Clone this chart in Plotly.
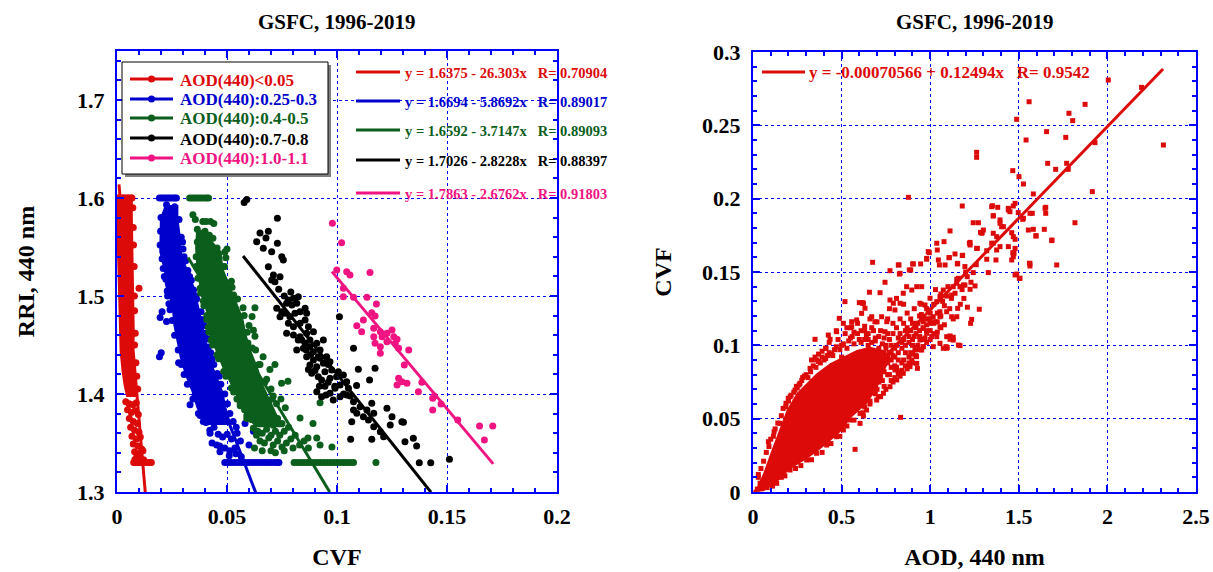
import plotly.graph_objects as go

W, H = 1213, 572
FONT = "Liberation Serif"
AX_BLUE = "#0000ff"
C_RED = "#dd0a0a"
C_BLUE = "#0000cc"
C_GREEN = "#0b5e1c"
C_BLACK = "#000000"
C_PINK = "#f01482"

# ------------------------------------------------------------------ data
group_labels = ["AOD(440)&lt;0.05", "AOD(440):0.25-0.3", "AOD(440):0.4-0.5",
                "AOD(440):0.7-0.8", "AOD(440):1.0-1.1"]
group_colors = [C_RED, C_BLUE, C_GREEN, C_BLACK, C_PINK]

fit_intercept = [1.6375, 1.6694, 1.6592, 1.7026, 1.7863]
fit_slope = [26.303, 5.8692, 3.7147, 2.8228, 2.6762]
fit_r = [0.70904, 0.89017, 0.89093, 0.88397, 0.91803]
fit_x_start = [0.0009, 0.0195, 0.0323, 0.0573, 0.0977]
fit_x_end = [0.0129, 0.0630, 0.0967, 0.1427, 0.1710]

aod_fit_intercept = -0.00070566
aod_fit_slope = 0.12494
aod_fit_r = 0.9542
aod_fit_x = [0.005, 2.314]

# saturated (solid) cores of the dense clouds, outline
red_core = [(0.0, 1.6035), (0.0072, 1.6035), (0.0072, 1.58), (0.0074, 1.545), (0.0077, 1.51),
            (0.0077, 1.477), (0.0081, 1.46), (0.0077, 1.443), (0.0085, 1.426), (0.0090, 1.409),
            (0.0092, 1.397), (0.0042, 1.397), (0.0030, 1.409), (0.0021, 1.423), (0.0012, 1.443),
            (0.0006, 1.51), (0.0, 1.545)]
blue_core = [(0.0218, 1.5929), (0.0195, 1.5793), (0.0192, 1.5452), (0.0214, 1.5248), (0.0218, 1.5112),
             (0.0248, 1.4908), (0.0256, 1.4704), (0.0271, 1.4534), (0.0286, 1.4364), (0.0309, 1.4194),
             (0.0339, 1.4024), (0.0362, 1.3854), (0.0400, 1.3684), (0.0521, 1.3684), (0.0498, 1.3854),
             (0.0483, 1.4024), (0.0453, 1.4194), (0.0423, 1.4364), (0.0408, 1.4534), (0.0392, 1.4704),
             (0.0377, 1.4874), (0.0355, 1.5078), (0.0324, 1.5248), (0.0294, 1.5452), (0.0289, 1.5622),
             (0.0279, 1.5793), (0.0279, 1.5929)]
green_core = [(0.0359, 1.5656), (0.0355, 1.5486), (0.0362, 1.5248), (0.0374, 1.5112), (0.0385, 1.4976),
              (0.0405, 1.4840), (0.0411, 1.4704), (0.0423, 1.4568), (0.0450, 1.4432), (0.0480, 1.4262),
              (0.0517, 1.4092), (0.0552, 1.3922), (0.0585, 1.3780), (0.0630, 1.3660), (0.0760, 1.3660),
              (0.0730, 1.3780), (0.0700, 1.3922), (0.0665, 1.4092), (0.0642, 1.4262), (0.0612, 1.4432),
              (0.0589, 1.4602), (0.0574, 1.4772), (0.0544, 1.4942), (0.0514, 1.5112), (0.0483, 1.5282),
              (0.0476, 1.5452), (0.0423, 1.5588), (0.0408, 1.5656)]
aod_core = [(0.010, 0.000), (0.058, 0.0127), (0.105, 0.0286), (0.152, 0.0445), (0.190, 0.0559),
            (0.246, 0.0673), (0.303, 0.0741), (0.359, 0.0809), (0.435, 0.0877), (0.510, 0.0923),
            (0.585, 0.0968), (0.660, 0.0991), (0.736, 0.0968), (0.770, 0.0900), (0.736, 0.0800),
            (0.698, 0.0700), (0.641, 0.0600), (0.604, 0.0560), (0.547, 0.0500), (0.510, 0.0430),
            (0.472, 0.0385), (0.416, 0.0328), (0.359, 0.0272), (0.303, 0.0225), (0.209, 0.0155),
            (0.134, 0.0065), (0.060, 0.0005)]

red_pts = [
    (0.0010, 1.600), (0.0030, 1.600), (0.0050, 1.600), (0.0068, 1.600),
    (0.0072, 1.590), (0.0074, 1.570), (0.0075, 1.552), (0.0078, 1.530), (0.0079, 1.500),
    (0.0080, 1.485), (0.0083, 1.462), (0.0080, 1.450), (0.0086, 1.432), (0.0090, 1.418),
    (0.0094, 1.405), (0.0100, 1.508),
    (0.0040, 1.392), (0.0055, 1.390), (0.0072, 1.389), (0.0088, 1.391), (0.0048, 1.384),
    (0.0065, 1.381), (0.0082, 1.383), (0.0097, 1.379), (0.0056, 1.375), (0.0074, 1.372),
    (0.0092, 1.370), (0.0062, 1.366), (0.0080, 1.363), (0.0100, 1.361), (0.0068, 1.357),
    (0.0088, 1.354), (0.0106, 1.356), (0.0074, 1.349), (0.0095, 1.347), (0.0112, 1.344),
    (0.0080, 1.341), (0.0100, 1.339), (0.0118, 1.342), (0.0090, 1.336),
    (0.0076, 1.330), (0.0086, 1.330), (0.0096, 1.330), (0.0106, 1.330), (0.0116, 1.330),
    (0.0126, 1.330), (0.0136, 1.330), (0.0146, 1.330), (0.0156, 1.330), (0.0081, 1.333),
    (0.0101, 1.333), (0.0121, 1.333)]

blue_pts = [
    (0.0193, 1.600), (0.0203, 1.600), (0.0213, 1.600), (0.0223, 1.600), (0.0233, 1.600),
    (0.0243, 1.600), (0.0253, 1.600), (0.0263, 1.600), (0.0270, 1.600),
    (0.0225, 1.593), (0.0262, 1.591), (0.0200, 1.580), (0.0282, 1.578), (0.0198, 1.566),
    (0.0292, 1.560), (0.0196, 1.552), (0.0300, 1.548), (0.0205, 1.538), (0.0312, 1.536),
    (0.0210, 1.528), (0.0322, 1.526), (0.0338, 1.516), (0.0222, 1.517), (0.0348, 1.506),
    (0.0230, 1.500), (0.0362, 1.497), (0.0236, 1.492),
    (0.0215, 1.520), (0.0228, 1.505), (0.0245, 1.490), (0.0250, 1.475), (0.0262, 1.460),
    (0.0278, 1.445), (0.0292, 1.430), (0.0305, 1.420), (0.0320, 1.410), (0.0345, 1.395),
    (0.0370, 1.380), (0.0298, 1.555), (0.0305, 1.540), (0.0330, 1.520), (0.0358, 1.500),
    (0.0385, 1.476), (0.0400, 1.462), (0.0415, 1.448), (0.0433, 1.436), (0.0465, 1.418),
    (0.0196, 1.478), (0.0205, 1.484), (0.0241, 1.486), (0.0193, 1.438), (0.0201, 1.442),
    (0.0280, 1.432), (0.0225, 1.474),
    (0.0382, 1.484), (0.0396, 1.470), (0.0412, 1.456), (0.0426, 1.442), (0.0440, 1.430),
    (0.0456, 1.421), (0.0472, 1.410), (0.0490, 1.400), (0.0502, 1.390), (0.0513, 1.380),
    (0.0528, 1.372), (0.0542, 1.366),
    (0.0405, 1.371), (0.0422, 1.363), (0.0441, 1.366), (0.0460, 1.359), (0.0480, 1.356),
    (0.0501, 1.359), (0.0520, 1.354), (0.0546, 1.360), (0.0561, 1.352), (0.0432, 1.350),
    (0.0467, 1.347), (0.0490, 1.345), (0.0512, 1.342), (0.0536, 1.345), (0.0620, 1.362),
    (0.0582, 1.370), (0.0453, 1.348), (0.0468, 1.341), (0.0423, 1.360), (0.0332, 1.389),
    (0.0355, 1.399), (0.0378, 1.378), (0.0392, 1.372), (0.0510, 1.337), (0.0540, 1.339),
    (0.0565, 1.336), (0.0600, 1.348),
    (0.0490, 1.330), (0.0505, 1.330), (0.0520, 1.330), (0.0535, 1.330), (0.0550, 1.330),
    (0.0565, 1.330), (0.0580, 1.330), (0.0595, 1.330), (0.0610, 1.330), (0.0625, 1.330),
    (0.0640, 1.330), (0.0655, 1.330), (0.0670, 1.330), (0.0685, 1.330), (0.0700, 1.330),
    (0.0715, 1.330), (0.0730, 1.330), (0.0736, 1.330)]

green_pts = [
    (0.0330, 1.600), (0.0341, 1.600), (0.0352, 1.600), (0.0363, 1.600), (0.0374, 1.600),
    (0.0385, 1.600), (0.0396, 1.600), (0.0407, 1.600), (0.0416, 1.600),
    (0.0345, 1.583), (0.0356, 1.578), (0.0390, 1.576), (0.0405, 1.576), (0.0425, 1.576),
    (0.0440, 1.574), (0.0365, 1.568), (0.0380, 1.564), (0.0400, 1.566), (0.0420, 1.562),
    (0.0436, 1.559), (0.0455, 1.549), (0.0500, 1.548), (0.0495, 1.539), (0.0488, 1.530),
    (0.0490, 1.545), (0.0487, 1.530), (0.0520, 1.515), (0.0548, 1.497), (0.0578, 1.480),
    (0.0592, 1.463), (0.0615, 1.447), (0.0645, 1.430), (0.0672, 1.412), (0.0705, 1.395),
    (0.0365, 1.555), (0.0360, 1.530), (0.0378, 1.508), (0.0392, 1.495), (0.0408, 1.480),
    (0.0415, 1.468), (0.0428, 1.455), (0.0455, 1.440), (0.0485, 1.423), (0.0520, 1.406),
    (0.0560, 1.390), (0.0590, 1.375), (0.0635, 1.362),
    (0.0523, 1.509), (0.0530, 1.501), (0.0573, 1.488), (0.0627, 1.488), (0.0614, 1.479),
    (0.0620, 1.465), (0.0627, 1.459), (0.0600, 1.470), (0.0595, 1.452), (0.0630, 1.445),
    (0.0664, 1.438), (0.0650, 1.430), (0.0695, 1.425), (0.0718, 1.430), (0.0680, 1.415),
    (0.0748, 1.411), (0.0777, 1.413), (0.0700, 1.405),
    (0.0360, 1.540), (0.0368, 1.518), (0.0380, 1.503), (0.0395, 1.490), (0.0408, 1.476),
    (0.0418, 1.463), (0.0435, 1.450), (0.0462, 1.436), (0.0495, 1.418), (0.0530, 1.402),
    (0.0545, 1.395),
    (0.0710, 1.398), (0.0725, 1.390), (0.0745, 1.395), (0.0765, 1.386), (0.0690, 1.390),
    (0.0560, 1.388), (0.0580, 1.384), (0.0600, 1.386), (0.0620, 1.382), (0.0640, 1.385),
    (0.0660, 1.380), (0.0590, 1.378), (0.0610, 1.374), (0.0630, 1.372), (0.0650, 1.376),
    (0.0670, 1.370), (0.0690, 1.372), (0.0710, 1.368), (0.0730, 1.375), (0.0750, 1.370),
    (0.0620, 1.365), (0.0640, 1.362), (0.0660, 1.360), (0.0680, 1.364), (0.0700, 1.358),
    (0.0720, 1.362), (0.0740, 1.358), (0.0760, 1.362), (0.0780, 1.366), (0.0650, 1.352),
    (0.0670, 1.350), (0.0690, 1.355), (0.0710, 1.348), (0.0730, 1.352), (0.0750, 1.346),
    (0.0770, 1.350), (0.0790, 1.354), (0.0810, 1.358), (0.0700, 1.342), (0.0720, 1.340),
    (0.0760, 1.342), (0.0800, 1.345), (0.0830, 1.348), (0.0850, 1.352), (0.0832, 1.3755),
    (0.0891, 1.370), (0.0923, 1.391), (0.0868, 1.355), (0.0923, 1.348), (0.0977, 1.346),
    (0.0625, 1.345), (0.0660, 1.342), (0.0634, 1.358), (0.0870, 1.345), (0.0908, 1.355),
    (0.0805, 1.330), (0.0820, 1.330), (0.0835, 1.330), (0.0850, 1.330), (0.0865, 1.330),
    (0.0880, 1.330), (0.0895, 1.330), (0.0910, 1.330), (0.0925, 1.330), (0.0940, 1.330),
    (0.0955, 1.330), (0.0970, 1.330), (0.0985, 1.330), (0.1000, 1.330), (0.1015, 1.330),
    (0.1030, 1.330), (0.1045, 1.330), (0.1060, 1.330), (0.1075, 1.330), (0.1177, 1.330)]

black_pts = [
    (0.0578, 1.5955), (0.0590, 1.5985), (0.0729, 1.5793), (0.0650, 1.5643), (0.0688, 1.5660),
    (0.0677, 1.5592), (0.0635, 1.5554), (0.0665, 1.5487), (0.0729, 1.5538), (0.0703, 1.5452),
    (0.0749, 1.5400), (0.0756, 1.5367), (0.0688, 1.5299), (0.0711, 1.5214), (0.0703, 1.5163),
    (0.0741, 1.5197), (0.0718, 1.5146), (0.0735, 1.5070), (0.0760, 1.5000), (0.0790, 1.5040),
    (0.0779, 1.4959), (0.0802, 1.4976), (0.0824, 1.4993), (0.0817, 1.4925), (0.0795, 1.4908),
    (0.0771, 1.4925), (0.0726, 1.4874), (0.0749, 1.4840), (0.0741, 1.4789), (0.0763, 1.4823),
    (0.0786, 1.4789), (0.0809, 1.4823), (0.0832, 1.4840), (0.0855, 1.4874), (0.0862, 1.4823),
    (0.0779, 1.4721), (0.0802, 1.4687), (0.0832, 1.4721), (0.0855, 1.4755), (0.0870, 1.4687),
    (0.0771, 1.4619), (0.0802, 1.4602), (0.0832, 1.4585), (0.0862, 1.4619), (0.0893, 1.4636),
    (0.0824, 1.4551), (0.0855, 1.4517), (0.0877, 1.4551), (0.0938, 1.4551),
    (0.0817, 1.4449), (0.0847, 1.4466), (0.0877, 1.4483), (0.0908, 1.4517), (0.0893, 1.4432),
    (0.0923, 1.4449), (0.0860, 1.4450), (0.0840, 1.4550), (0.0880, 1.4400),
    (0.0862, 1.4381), (0.0893, 1.4347), (0.0923, 1.4364), (0.0953, 1.4381), (0.0877, 1.4296),
    (0.0908, 1.4279), (0.0938, 1.4313), (0.0968, 1.4330), (0.0960, 1.4300), (0.0915, 1.4380),
    (0.0885, 1.4211), (0.0915, 1.4177), (0.0945, 1.4228), (0.0976, 1.4245), (0.1006, 1.4228),
    (0.0930, 1.4143), (0.0968, 1.4160), (0.0998, 1.4177), (0.1029, 1.4194), (0.0870, 1.4250),
    (0.0900, 1.4240), (0.0960, 1.4120), (0.0990, 1.4080), (0.0945, 1.4080), (0.0920, 1.4080),
    (0.0908, 1.4024), (0.0930, 1.3973), (0.0968, 1.4007), (0.0991, 1.4058), (0.1014, 1.4092),
    (0.1044, 1.4126), (0.1052, 1.4058), (0.0983, 1.3939), (0.1014, 1.3973), (0.1044, 1.3990),
    (0.1030, 1.4000), (0.1060, 1.3980), (0.0950, 1.3990), (0.1089, 1.4088),
    (0.1075, 1.3921), (0.1105, 1.3871), (0.1090, 1.3803), (0.1136, 1.3837), (0.1158, 1.3905),
    (0.1075, 1.3837), (0.1120, 1.3769), (0.1167, 1.3803),
    (0.1067, 1.3718), (0.1143, 1.3735), (0.1167, 1.3667), (0.1227, 1.3854), (0.1250, 1.3769),
    (0.1295, 1.3718), (0.1302, 1.3711), (0.1242, 1.3684), (0.1197, 1.3616), (0.1212, 1.3565),
    (0.1062, 1.3538), (0.1158, 1.3538),
    (0.1347, 1.3548), (0.1362, 1.3470), (0.1309, 1.3514), (0.1374, 1.3299), (0.1426, 1.3299),
    (0.1511, 1.3333),
    (0.1011, 1.4789), (0.1075, 1.4466), (0.1097, 1.4252), (0.1173, 1.4262), (0.1148, 1.4143)]

pink_pts = [
    (0.0979, 1.5742), (0.1021, 1.5544), (0.0999, 1.5265), (0.1044, 1.5248), (0.1059, 1.5214),
    (0.1150, 1.5241), (0.1029, 1.5078), (0.1029, 1.4993), (0.1075, 1.4986), (0.1136, 1.4986),
    (0.1179, 1.4918), (0.1158, 1.4830), (0.1173, 1.4796), (0.1120, 1.4755), (0.1090, 1.4697),
    (0.1112, 1.4636), (0.1167, 1.4670), (0.1197, 1.4636), (0.1205, 1.4585), (0.1227, 1.4619),
    (0.1250, 1.4653), (0.1258, 1.4585), (0.1273, 1.4558), (0.1167, 1.4585), (0.1173, 1.4517),
    (0.1197, 1.4483), (0.1197, 1.4415), (0.1227, 1.4534), (0.1265, 1.4517), (0.1280, 1.4466),
    (0.1326, 1.4449), (0.1306, 1.4296), (0.1280, 1.4160), (0.1295, 1.4126), (0.1318, 1.4109),
    (0.1273, 1.4092), (0.1370, 1.4024), (0.1386, 1.4119), (0.1435, 1.3956), (0.1442, 1.3980),
    (0.1435, 1.3837), (0.1473, 1.3898), (0.1549, 1.3735), (0.1648, 1.3673), (0.1708, 1.3673),
    (0.1670, 1.3531)]

aod_cvf_pts = [
    # sparse high-AOD points
    (2.005, 0.2809), (2.193, 0.2759), (1.874, 0.2643), (1.558, 0.2661), (1.488, 0.2541),
    (1.783, 0.2582), (1.804, 0.2532), (1.541, 0.2400), (1.657, 0.2457), (1.765, 0.2418),
    (2.316, 0.2366), (1.930, 0.2382), (1.262, 0.2316), (1.262, 0.2282), (1.663, 0.2241),
    (1.770, 0.2241), (1.779, 0.2200), (1.708, 0.2200), (1.466, 0.2191), (1.501, 0.2150),
    (1.526, 0.2100), (1.582, 0.2032), (1.915, 0.2048), (0.877, 0.2009), (1.479, 0.1968),
    (1.652, 0.1941), (1.652, 0.1900), (1.576, 0.1900), (1.351, 0.1952), (1.381, 0.1941),
    (1.181, 0.1950), (1.441, 0.1934), (1.450, 0.1911), (1.497, 0.1905), (1.522, 0.1859),
    (1.356, 0.1884), (1.817, 0.1836), (1.554, 0.1786), (1.644, 0.1791), (1.597, 0.1748),
    (1.686, 0.1714), (1.563, 0.1559), (1.563, 0.1541), (1.714, 0.1548), (1.243, 0.1836),
    (1.272, 0.1836), (1.112, 0.1780), (1.284, 0.1770), (1.293, 0.1770), (1.394, 0.1855),
    (1.394, 0.1832), (1.403, 0.1809), (1.460, 0.1768), (1.479, 0.1723), (1.356, 0.1764),
    (1.375, 0.1741), (1.347, 0.1696), (1.225, 0.1702), (1.225, 0.1684), (1.262, 0.1661),
    (1.319, 0.1645), (1.356, 0.1696), (1.479, 0.1661), (1.466, 0.1632), (1.469, 0.1604),
    (1.460, 0.1582), (1.394, 0.1673), (0.995, 0.1632), (1.037, 0.1696), (1.040, 0.1650),
    (1.078, 0.1707), (1.108, 0.1598), (1.155, 0.1559), (1.181, 0.1612), (1.140, 0.1623),
    (0.675, 0.1566), (0.773, 0.1509), (0.824, 0.1548), (0.830, 0.1491), (0.882, 0.1514),
    (0.905, 0.1555), (0.946, 0.1555), (0.980, 0.1587), (0.989, 0.1639), (1.046, 0.1582),
    (1.084, 0.1548), (1.052, 0.1548), (1.106, 0.1598), (1.153, 0.1555), (1.183, 0.1614),
    (1.221, 0.1696), (1.266, 0.1661), (1.196, 0.1537), (1.209, 0.1468), (1.253, 0.1405),
    (1.243, 0.1496), (1.319, 0.1587), (1.328, 0.1496), (1.277, 0.1246), (1.234, 0.1177),
    (1.228, 0.1150), (1.159, 0.1457), (1.187, 0.1411), (1.130, 0.1400), (1.155, 0.1252),
    (1.300, 0.1786), (1.291, 0.1764), (1.347, 0.1945), (1.356, 0.1882), (1.413, 0.1809),
    (1.441, 0.1923), (1.469, 0.1950), (1.526, 0.1866), (1.563, 0.1900), (1.441, 0.1673),
    (1.473, 0.1627), (1.375, 0.1650), (1.371, 0.1582), (1.469, 0.1741), (1.582, 0.1791),
    (1.648, 0.1934), (1.597, 0.1745), (1.560, 0.1559), (1.488, 0.1486), (1.503, 0.1457),
    (1.687, 0.1718), (1.507, 0.1457), (1.479, 0.1480), (0.980, 0.1593), (0.901, 0.1555),
    (0.890, 0.1514), (0.820, 0.1548), (0.826, 0.1486), (0.745, 0.1430),
    # mid range
    (0.657, 0.1362), (0.717, 0.1359), (0.519, 0.1298), (0.600, 0.1291), (0.619, 0.1287),
    (0.632, 0.1253), (0.773, 0.1309), (0.792, 0.1287), (0.801, 0.1241), (0.830, 0.1287),
    (0.848, 0.1355), (0.867, 0.1400), (0.896, 0.1377), (0.924, 0.1400), (0.952, 0.1400),
    (0.942, 0.1287), (0.971, 0.1275), (0.999, 0.1321), (0.989, 0.1241), (1.037, 0.1298),
    (1.055, 0.1332), (1.074, 0.1377), (1.093, 0.1336), (1.121, 0.1343), (1.140, 0.1355),
    (1.150, 0.1423), (1.168, 0.1400), (1.196, 0.1411), (1.225, 0.1382), (1.055, 0.1229),
    (1.093, 0.1229), (1.121, 0.1195), (1.150, 0.1195), (1.017, 0.1195), (1.055, 0.1195),
    (0.999, 0.1150), (1.027, 0.1161), (1.055, 0.1127), (1.093, 0.1059), (1.112, 0.1064),
    (1.130, 0.1036), (1.159, 0.1002), (1.055, 0.1014), (1.017, 0.0991), (1.074, 0.0980),
    (1.093, 0.0980), (0.952, 0.1195), (0.924, 0.1150), (0.961, 0.1116), (0.980, 0.1082),
    (1.008, 0.1059), (0.942, 0.1036), (0.961, 0.0991), (0.914, 0.0968), (0.896, 0.0900),
    (0.924, 0.0877), (1.168, 0.0998), (1.130, 0.1055), (1.112, 0.1041), (1.089, 0.0991),
    (1.096, 0.0986), (1.037, 0.1059), (0.952, 0.0968), (0.928, 0.0843), (0.820, 0.0805),
    (0.801, 0.0832), (0.833, 0.0509), (0.576, 0.0291), (0.707, 0.0650), (0.604, 0.0468),
    (0.623, 0.0518),
    (0.487, 0.1184), (0.350, 0.1041), (0.425, 0.1070), (0.435, 0.1041), (0.472, 0.1093),
    (0.557, 0.1161), (0.585, 0.1173), (0.557, 0.1127), (0.623, 0.1287), (0.617, 0.1291),
    (0.613, 0.1218), (0.670, 0.1195), (0.688, 0.1161), (0.726, 0.1195), (0.755, 0.1161),
    (0.745, 0.1093), (0.322, 0.0843), (0.359, 0.0900), (0.401, 0.0900), (0.444, 0.0941),
    (0.412, 0.0980), (0.265, 0.0741), (0.237, 0.0695), (0.199, 0.0639), (0.186, 0.0605),
    (0.152, 0.0468), (0.119, 0.0411), (0.087, 0.0343),
    (0.56, 0.068), (0.58, 0.075), (0.60, 0.082), (0.62, 0.072), (0.64, 0.088), (0.66, 0.080),
    (0.68, 0.092), (0.70, 0.085), (0.72, 0.078), (0.74, 0.095), (0.76, 0.088), (0.78, 0.100),
    (0.80, 0.092), (0.82, 0.105), (0.84, 0.098), (0.86, 0.110), (0.88, 0.102), (0.90, 0.115),
    (0.92, 0.108), (0.94, 0.120), (0.96, 0.112), (0.98, 0.125), (1.00, 0.118), (1.02, 0.128),
    (1.04, 0.122), (1.06, 0.135), (1.08, 0.127), (1.10, 0.140), (1.12, 0.132), (1.15, 0.145),
    (1.18, 0.138), (1.20, 0.150), (1.23, 0.143), (1.26, 0.155),
    (0.58, 0.090), (0.62, 0.095), (0.65, 0.100), (0.69, 0.105), (0.72, 0.110), (0.76, 0.108),
    (0.79, 0.115), (0.83, 0.118), (0.87, 0.122), (0.70, 0.070), (0.74, 0.072), (0.77, 0.080),
    (0.81, 0.085), (0.85, 0.090), (0.89, 0.095), (0.93, 0.100), (0.97, 0.105), (0.66, 0.062),
    (0.63, 0.058), (0.69, 0.067),
    (0.38, 0.088), (0.42, 0.093), (0.46, 0.097), (0.50, 0.100), (0.54, 0.103), (0.48, 0.104),
    (0.52, 0.108), (0.56, 0.106), (0.60, 0.104), (0.64, 0.107), (0.68, 0.110), (0.55, 0.112),
    (0.59, 0.115), (0.63, 0.113), (0.66, 0.118), (0.70, 0.116), (0.50, 0.092), (0.45, 0.086),
    (0.21, 0.065), (0.25, 0.071), (0.28, 0.078), (0.30, 0.080),
    # ragged upper edge of the dense cloud
    (0.030, 0.012), (0.045, 0.016), (0.060, 0.021), (0.075, 0.027), (0.090, 0.031),
    (0.100, 0.036), (0.115, 0.038), (0.125, 0.043), (0.140, 0.047), (0.160, 0.052),
    (0.170, 0.057), (0.185, 0.058), (0.200, 0.062), (0.215, 0.066), (0.230, 0.068),
    (0.245, 0.072), (0.260, 0.073), (0.275, 0.076), (0.290, 0.079), (0.310, 0.078),
    (0.325, 0.082), (0.340, 0.086), (0.355, 0.085), (0.370, 0.089), (0.390, 0.092),
    (0.410, 0.091), (0.430, 0.095), (0.450, 0.093), (0.470, 0.099), (0.490, 0.097),
    (0.510, 0.101), (0.530, 0.098), (0.550, 0.105), (0.570, 0.101), (0.590, 0.108),
    (0.610, 0.102), (0.630, 0.110), (0.650, 0.104), (0.670, 0.112), (0.690, 0.103),
    (0.710, 0.106), (0.730, 0.101), (0.750, 0.098), (0.770, 0.095), (0.780, 0.090),
    # ragged lower edge of the dense cloud
    (0.134, 0.0059), (0.209, 0.0150), (0.303, 0.0218), (0.359, 0.0264), (0.416, 0.0320),
    (0.472, 0.0377), (0.510, 0.0423), (0.547, 0.0491), (0.604, 0.0536), (0.641, 0.0559),
    (0.698, 0.0627), (0.736, 0.0673), (0.773, 0.0718), (0.811, 0.0764), (0.848, 0.0809),
    (0.886, 0.0855), (0.923, 0.0923), (0.025, 0.002), (0.040, 0.006), (0.030, 0.010),
    (0.080, 0.003), (0.110, 0.004), (0.160, 0.010), (0.180, 0.011), (0.240, 0.016),
    (0.270, 0.018), (0.330, 0.022), (0.390, 0.027), (0.440, 0.033), (0.490, 0.038),
    (0.530, 0.045), (0.570, 0.049), (0.620, 0.054), (0.660, 0.060), (0.720, 0.065),
    (0.750, 0.070), (0.790, 0.075), (0.830, 0.079), (0.870, 0.084), (0.900, 0.088),
    # speckled continuation of the cloud
    (0.78, 0.085), (0.80, 0.078), (0.82, 0.090), (0.84, 0.083), (0.86, 0.095), (0.88, 0.088),
    (0.90, 0.100), (0.92, 0.093), (0.94, 0.106), (0.96, 0.099), (0.98, 0.110), (1.00, 0.104),
    (1.02, 0.115), (1.04, 0.109), (1.06, 0.120), (1.08, 0.114), (0.79, 0.108), (0.81, 0.112),
    (0.85, 0.115), (0.89, 0.110), (0.91, 0.125), (0.95, 0.128), (0.99, 0.118), (1.03, 0.138),
    (1.07, 0.130), (1.11, 0.125), (1.13, 0.118), (1.17, 0.128), (1.19, 0.132), (1.21, 0.126),
    (0.77, 0.125), (0.81, 0.132), (0.85, 0.128), (0.74, 0.105), (0.76, 0.118),
    (0.72, 0.088), (0.74, 0.082), (0.76, 0.092), (0.78, 0.095), (0.80, 0.098), (0.82, 0.095),
    (0.84, 0.102), (0.86, 0.100), (0.88, 0.106), (0.90, 0.104), (0.92, 0.112), (0.94, 0.110),
    (0.96, 0.116), (0.98, 0.114), (1.00, 0.122), (0.75, 0.100), (0.77, 0.104), (0.79, 0.093),
    (0.81, 0.100), (0.83, 0.108), (0.85, 0.104), (0.87, 0.112), (0.89, 0.118), (0.91, 0.106),
    (0.93, 0.115), (0.95, 0.121), (0.97, 0.118), (0.73, 0.092), (0.71, 0.098), (0.69, 0.095),
    (0.67, 0.102), (0.65, 0.108), (0.63, 0.104), (0.61, 0.110), (0.57, 0.109), (0.53, 0.112),
    (0.51, 0.115), (0.47, 0.110), (0.43, 0.102), (0.41, 0.098), (0.39, 0.096), (0.37, 0.094),
    (0.35, 0.092), (0.33, 0.090), (0.76, 0.080), (0.78, 0.076), (0.80, 0.086), (0.82, 0.082),
    (0.84, 0.088), (0.86, 0.086), (0.88, 0.092), (0.90, 0.094), (0.92, 0.098), (0.94, 0.097),
    (0.96, 0.104), (0.98, 0.102), (1.00, 0.110), (1.02, 0.108), (1.04, 0.116), (1.06, 0.112),
    (0.71, 0.075), (0.73, 0.076), (0.68, 0.076), (0.66, 0.072), (0.64, 0.068)]

group_pts = [red_pts, blue_pts, green_pts, black_pts, pink_pts]
group_cores = [red_core, blue_core, green_core, None, None]


# ------------------------------------------------------------------ helpers
def unzip(pts):
    return [p[0] for p in pts], [p[1] for p in pts]


def PX(x):
    return x / W


def PY(y):
    return 1 - y / H


bold = dict(family=FONT, weight="bold")

fig = go.Figure()

# left panel: cores then points
for core, pts, col in zip(group_cores, group_pts, group_colors):
    if core:
        cx, cy = unzip(core + [core[0]])
        fig.add_trace(go.Scatter(x=cx, y=cy, mode="lines", fill="toself", fillcolor=col,
                                 line=dict(width=0, color=col), hoverinfo="skip",
                                 xaxis="x", yaxis="y", showlegend=False))
    px_, py_ = unzip(pts)
    fig.add_trace(go.Scatter(x=px_, y=py_, mode="markers",
                             marker=dict(size=7, color=col, line=dict(width=0)),
                             xaxis="x", yaxis="y", showlegend=False))

# left panel fit lines
for a, b, x0, x1, col in zip(fit_intercept, fit_slope, fit_x_start, fit_x_end, group_colors):
    fig.add_trace(go.Scatter(x=[x0, x1], y=[a - b * x0, a - b * x1], mode="lines",
                             line=dict(color=col, width=3), xaxis="x", yaxis="y",
                             showlegend=False))

# right panel
cx, cy = unzip(aod_core + [aod_core[0]])
fig.add_trace(go.Scatter(x=cx, y=cy, mode="lines", fill="toself", fillcolor=C_RED,
                         line=dict(width=0, color=C_RED), hoverinfo="skip",
                         xaxis="x2", yaxis="y2", showlegend=False))
ax_, ay_ = unzip(aod_cvf_pts)
fig.add_trace(go.Scatter(x=ax_, y=ay_, mode="markers",
                         marker=dict(size=5, symbol="square", color=C_RED, line=dict(width=0)),
                         xaxis="x2", yaxis="y2", showlegend=False))
fig.add_trace(go.Scatter(x=aod_fit_x,
                         y=[aod_fit_intercept + aod_fit_slope * v for v in aod_fit_x],
                         mode="lines", line=dict(color=C_RED, width=3),
                         xaxis="x2", yaxis="y2", showlegend=False))


def axis(domain, rng, dtick, mdtick, anchor, title, standoff, tick0=0):
    return dict(
        domain=domain, range=rng, tick0=tick0, dtick=dtick, anchor=anchor,
        showline=True, linecolor=AX_BLUE, linewidth=2, mirror="allticks",
        ticks="inside", ticklen=7, tickwidth=1.5, tickcolor=AX_BLUE,
        showgrid=True, gridcolor=AX_BLUE, griddash="dot", gridwidth=1, zeroline=False,
        tickfont=dict(size=22, color="black", **bold),
        minor=dict(dtick=mdtick, tick0=tick0, ticks="inside", ticklen=4, tickwidth=1.5,
                   tickcolor=AX_BLUE, showgrid=False),
        title=dict(text=title, font=dict(size=24, color="black", **bold), standoff=standoff),
        automargin=False,
    )


xl = axis([117 / W, 557 / W], [0, 0.2], 0.05, 0.01, "y", "CVF", 20)
yl = axis([1 - 492 / H, 1 - 51 / H], [1.3, 1.75], 0.1, 0.02, "x", "RRI, 440 nm", 36, tick0=1.3)
xr = axis([753 / W, 1196 / W], [0, 2.5], 0.5, 0.1, "y2", "AOD, 440 nm", 20)
yr = axis([1 - 492 / H, 1 - 52 / H], [0, 0.3], 0.05, 0.01, "x2", "CVF", 24)
xl["ticklabelstandoff"] = 4
xr["ticklabelstandoff"] = 4
yl["ticklabelstandoff"] = 6
yr["ticklabelstandoff"] = 6

shapes = []
annotations = []

# panel titles
for cxp in (337, 975):
    annotations.append(dict(text="GSFC, 1996-2019", x=PX(cxp), y=PY(22), xref="paper",
                            yref="paper", xanchor="center", yanchor="middle", showarrow=False,
                            font=dict(size=21, color="black", **bold)))

# legend box (left panel)
shapes.append(dict(type="rect", xref="paper", yref="paper", x0=PX(125), x1=PX(331),
                   y0=PY(177), y1=PY(65), fillcolor="#7f7f7f", line=dict(width=0),
                   layer="above"))
shapes.append(dict(type="rect", xref="paper", yref="paper", x0=PX(122), x1=PX(328),
                   y0=PY(174), y1=PY(62), fillcolor="white",
                   line=dict(color="black", width=1), layer="above"))
leg_rows = [79, 99, 118, 138, 158]
for lab, col, ry in zip(group_labels, group_colors, leg_rows):
    shapes.append(dict(type="line", xref="paper", yref="paper", x0=PX(130), x1=PX(173),
                       y0=PY(ry), y1=PY(ry), line=dict(color=col, width=3), layer="above"))
    shapes.append(dict(type="circle", xref="paper", yref="paper", x0=PX(148), x1=PX(155),
                       y0=PY(ry + 3.5), y1=PY(ry - 3.5), fillcolor=col,
                       line=dict(width=0), layer="above"))
    annotations.append(dict(text=lab, x=PX(178), y=PY(ry + 1), xref="paper", yref="paper",
                            xanchor="left", yanchor="middle", showarrow=False,
                            font=dict(size=17, color=col, **bold)))

# fit equations (left panel)
NB = "\u00a0"
fit_rows = [72, 101, 130, 160, 193]
for a, b, r, col, ry in zip(fit_intercept, fit_slope, fit_r, group_colors, fit_rows):
    shapes.append(dict(type="line", xref="paper", yref="paper", x0=PX(356), x1=PX(400),
                       y0=PY(ry), y1=PY(ry), line=dict(color=col, width=3), layer="above"))
    txt = f"y = {a} - {b}x{NB*3}R= {r}"
    annotations.append(dict(text=txt, x=PX(403), y=PY(ry + 1), xref="paper", yref="paper",
                            xanchor="left", yanchor="middle", showarrow=False,
                            font=dict(size=14.5, color=col, **bold)))

# fit equation (right panel)
shapes.append(dict(type="line", xref="paper", yref="paper", x0=PX(762), x1=PX(805),
                   y0=PY(72), y1=PY(72), line=dict(color=C_RED, width=3), layer="above"))
annotations.append(dict(text=f"y = {aod_fit_intercept} + {aod_fit_slope}x{NB*3}R= {aod_fit_r}",
                        x=PX(807), y=PY(73), xref="paper", yref="paper", xanchor="left",
                        yanchor="middle", showarrow=False,
                        font=dict(size=17, color=C_RED, **bold)))

fig.update_layout(
    width=W, height=H, margin=dict(l=0, r=0, t=0, b=0),
    paper_bgcolor="white", plot_bgcolor="white", showlegend=False,
    xaxis=xl, yaxis=yl, xaxis2=xr, yaxis2=yr,
    shapes=shapes, annotations=annotations,
    font=dict(family=FONT, color="black"),
)

fig.write_html("out.html")
